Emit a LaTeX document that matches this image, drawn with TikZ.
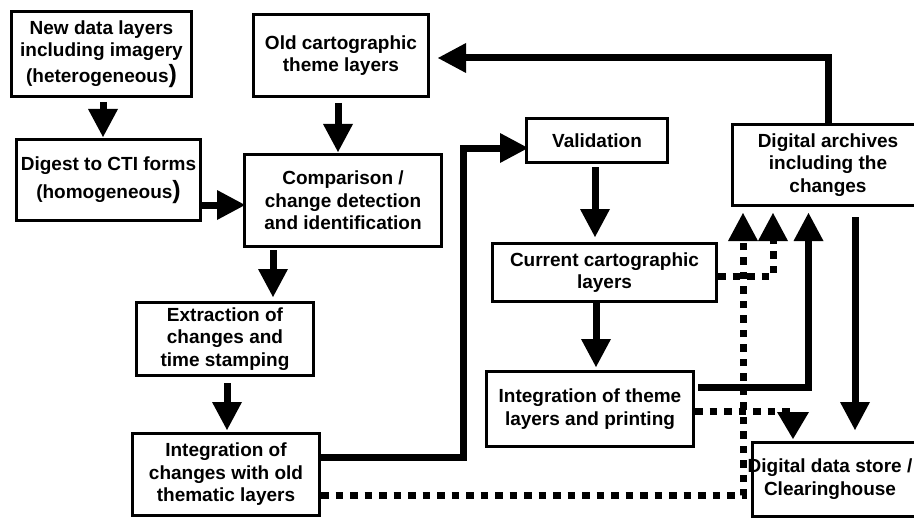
\documentclass[tikz,border=0pt]{standalone}
\usepackage{fontspec}
\setmainfont{Liberation Sans}
\usetikzlibrary{arrows.meta,calc}
\newcommand{\bigparen}{{\fontsize{25}{22}\selectfont )}}
\begin{document}
\begin{tikzpicture}[x=1pt,y=-1pt,
  txt/.style={align=center,inner sep=0pt,font=\fontsize{19}{22.5}\selectfont\bfseries},
  box/.style={txt,draw,line width=3pt,fill=white},
  conn/.style={line width=7pt,line join=miter,-{Triangle[width=30pt,length=28pt,line width=0pt]}},
  dotconn/.style={conn,dash pattern=on 7.5pt off 7pt},
  dotconnshort/.style={line width=7pt,dash pattern=on 7.5pt off 7pt,-{Triangle[width=32pt,length=27pt,line width=0pt]}},
]
\useasboundingbox (0,0) rectangle (914,519);

% boxes
\node[box,minimum width=180pt,minimum height=85pt] (new) at (101.5,54) {New data layers\\including imagery\\[3pt](heterogeneous\bigparen};
\node[box,minimum width=184pt,minimum height=81pt] (digest) at (108.5,180) {Digest to CTI forms\\[6pt](homogeneous\bigparen};
\node[box,minimum width=175pt,minimum height=82pt] (old) at (341,55.5) {Old cartographic\\theme layers};
\node[box,minimum width=197pt,minimum height=92pt] (comp) at (343,200.5) {Comparison /\\change detection\\and identification};
\node[box,minimum width=177pt,minimum height=73pt] (extr) at (225,339) {Extraction of\\changes and\\time stamping};
\node[box,minimum width=187pt,minimum height=82pt] (intc) at (226,474.5) {Integration of\\changes with old\\thematic layers};
\node[box,minimum width=141pt,minimum height=44pt] (valid) at (597,140.5) {Validation};
\node[box,minimum width=224pt,minimum height=58pt] (curr) at (604.5,272.5) {Current cartographic\\layers};
\node[box,minimum width=207pt,minimum height=75pt] (intt) at (590,409) {Integration of theme\\layers and printing};
\node[box,minimum width=191pt,minimum height=81pt] (arch) at (828,165) {Digital archives\\including the\\changes};
\node[txt] (storetxt) at (830,479) {Digital data store /\\Clearinghouse};
\node[draw,line width=3pt,inner sep=0pt,minimum width=180pt,minimum height=74pt] (store) at (842.5,479.5) {};

% connectors
\draw[conn] ($(new.south)+(1.5,4)$) -- ($(new.south |- digest.north)+(1.5,-1)$);
\draw[conn] ($(digest.east)+(0,25)$) -- ($(digest.east -| comp.west)+(2,25)$);
\draw[conn] ($(old.south)+(-3,5)$) -- ($(old.south |- comp.north)+(-3,-1)$);
\draw[conn] ($(comp.south)+(-70,2)$) -- ($(comp.south |- extr.north)+(-70,-4)$);
\draw[conn] ($(extr.south)+(2,6)$) -- ($(extr.south |- intc.north)+(2,-2)$);
\draw[conn] ($(intc.east)+(-3,-17.5)$) -| ($(valid.west)+(-62,7.5)$) -- ($(valid.west)+(3,7.5)$);
\draw[conn] ($(valid.south)+(-2,3)$) -- ($(valid.south |- curr.north)+(-2,-5)$);
\draw[conn] ($(curr.south)+(-8.5,0)$) -- ($(curr.south |- intt.north)+(-8.5,-3)$);
\draw[conn] ($(intt.east)+(3,-22)$) -| ($(arch.south)+(-19.5,6)$);
\draw[dotconn] ($(curr.east)+(0,3.5)$) -| ($(arch.south)+(-55,6)$);
\draw[dotconn] ($(intc.east)+(0,20.5)$) -| ($(arch.south)+(-85,6)$);
\draw[dotconnshort] ($(intt.east)+(0,2)$) -| ($(store.north west)+(42,-2)$);
\draw[conn] ($(arch.south)+(27,10)$) -- ($(store.north west)+(104,-11)$);
\draw[conn] (arch.north) |- ($(old.east)+(8,2.5)$);
\end{tikzpicture}
\end{document}
